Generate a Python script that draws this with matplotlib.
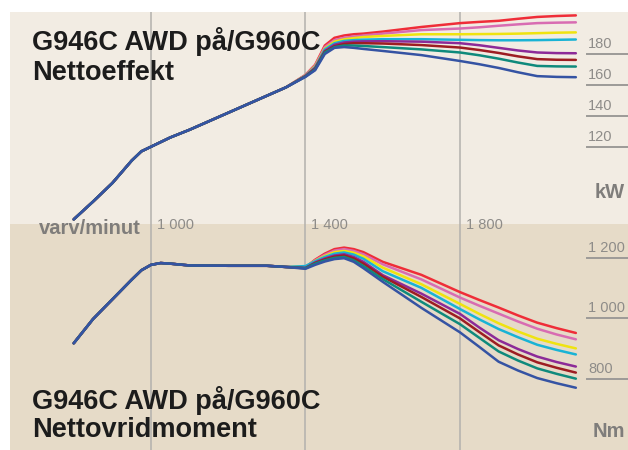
import matplotlib.pyplot as plt
import matplotlib.transforms as mtransforms

plt.rcParams['font.family'] = ['Liberation Sans', 'DejaVu Sans']

# varvtal (rpm)
rpm = [800, 850, 900, 950, 975, 1000, 1025, 1050, 1100, 1200, 1300, 1350,
       1400, 1425, 1450, 1475, 1500, 1525, 1550, 1600, 1700, 1800, 1850, 1900,
       1950, 2000, 2050, 2100]

# gemensam del 800-1350 rpm
kw_base = [73, 84.5, 96.5, 111, 117, 120, 123, 126, 131, 142, 153, 158.5]
nm_base = [917, 997, 1062, 1127, 1158, 1176, 1182, 1180, 1174, 1173, 1173, 1169]

# 1400-2100 rpm, en kurva per motorinställning
kw_red = [166.5, 173, 185.5, 190.5, 192, 192.8, 193.2, 194.5, 197.5, 200, 200.8, 201.5, 202.8, 204, 204.6, 205]
kw_pink = [166.3, 172.5, 184.5, 189, 190.5, 191.3, 192, 193.2, 195.5, 196.5, 197.3, 198.3, 199.2, 200, 200.3, 200.5]
kw_yellow = [166.1, 172, 183.5, 188, 189.5, 190.3, 191, 191.7, 192.8, 192.8, 192.9, 193, 193.2, 193.5, 193.8, 194]
kw_cyan = [166, 171.5, 183, 187, 188.5, 189, 189.3, 189.6, 189.6, 189.2, 189, 188.9, 188.9, 189, 189.2, 189.4]
kw_purple = [165.8, 171, 182, 186, 187.5, 188, 188.2, 188.3, 188, 187, 185.7, 184, 182.3, 181, 180.6, 180.5]
kw_darkred = [165.6, 170.5, 181.5, 185, 186.5, 187, 187, 186.8, 185.8, 184.2, 182.6, 180.7, 178.5, 176.7, 176.3, 176.2]
kw_teal = [165.4, 170, 181, 184.5, 185.5, 185.5, 185.2, 184.5, 183, 181, 179.2, 177, 174.5, 172.3, 172, 171.9]
kw_blue = [165.2, 169.5, 180, 184, 184.5, 184, 183.3, 182, 179.3, 175.5, 173.4, 171, 168.2, 165.7, 165.2, 165]

nm_red = [1168, 1193, 1213, 1228, 1233, 1228, 1218, 1186, 1143, 1086, 1060, 1035, 1009, 985, 967, 951]
nm_pink = [1169, 1191, 1209, 1223, 1228, 1222, 1211, 1178, 1128, 1068, 1041, 1015, 989, 965, 946, 930]
nm_yellow = [1170, 1189, 1205, 1218, 1222, 1216, 1204, 1167, 1112, 1047, 1014, 983, 956, 932, 915, 900]
nm_cyan = [1172, 1188, 1202, 1213, 1217, 1210, 1196, 1155, 1100, 1030, 996, 964, 937, 912, 895, 880]
nm_purple = [1166, 1184, 1197, 1207, 1211, 1202, 1186, 1142, 1081, 1014, 969, 927, 898, 873, 855, 840]
nm_darkred = [1165, 1182, 1194, 1203, 1207, 1197, 1180, 1137, 1070, 999, 954, 910, 880, 854, 836, 820]
nm_teal = [1165, 1180, 1191, 1199, 1202, 1191, 1172, 1129, 1054, 980, 935, 890, 860, 834, 816, 800]
nm_blue = [1163, 1176, 1187, 1195, 1198, 1186, 1165, 1120, 1034, 953, 905, 856, 827, 802, 785, 770]

kw_tails = [kw_red, kw_pink, kw_yellow, kw_cyan, kw_purple, kw_darkred, kw_teal, kw_blue]
nm_tails = [nm_red, nm_pink, nm_yellow, nm_cyan, nm_purple, nm_darkred, nm_teal, nm_blue]
colors = ['#ef2d38', '#d86cb2', '#efe310', '#19b3d5', '#8c2a98', '#9d1d22', '#0f8a7c', '#3553a3']

x_ticks = [1000, 1400, 1800]
x_labels = ['1 000', '1 400', '1 800']
kw_ticks = [180, 160, 140, 120]
kw_labels = ['180', '160', '140', '120']
nm_ticks = [1200, 1000, 800]
nm_labels = ['1 200', '1 000', '800']

W, H = 628, 450
fig = plt.figure(figsize=(W / 100, H / 100), dpi=100)
fig.patch.set_facecolor('white')

ax1 = fig.add_axes([10 / W, (H - 226) / H, 618 / W, 214 / H])
ax2 = fig.add_axes([10 / W, 0, 618 / W, 226 / H])

ax1.set_facecolor('#f2ece3')
ax2.set_facecolor('#e6dbc8')
ax1.set_xlim(635, 2235)
ax2.set_xlim(635, 2235)
ax1.set_ylim(68.7, 207.2)
ax2.set_ylim(564.3, 1311)

for ax in (ax1, ax2):
    for s in ax.spines.values():
        s.set_visible(False)
    ax.set_xticks([])
    ax.set_yticks([])
    for v in x_ticks:
        ax.axvline(v, color='#b3b1ad', lw=1.1, zorder=1)

# kurvor, blå sist så den hamnar överst
for tail, c in zip(kw_tails, colors):
    ax1.plot(rpm, kw_base + tail, color=c, lw=1.8, solid_capstyle='round',
             solid_joinstyle='round', zorder=3)
for tail, c in zip(nm_tails, colors):
    ax2.plot(rpm, nm_base + tail, color=c, lw=1.8, solid_capstyle='round',
             solid_joinstyle='round', zorder=3)

# högra skalor
x0 = (587 - 10) / 618
for ax, ticks, labels in ((ax1, kw_ticks, kw_labels), (ax2, nm_ticks, nm_labels)):
    tr = mtransforms.blended_transform_factory(ax.transAxes, ax.transData)
    for v, lab in zip(ticks, labels):
        ax.axhline(v, xmin=x0, xmax=1, color='#9c9a97', lw=1.4, zorder=2)
        ax.annotate(lab, xy=(x0 + 0.002, v), xycoords=tr, xytext=(0, 2),
                    textcoords='offset points', ha='left', va='bottom',
                    fontsize=10.5, color='#8e8c89')

# varvtal längs skarven
tr2 = mtransforms.blended_transform_factory(ax2.transData, ax2.transAxes)
for v, lab in zip(x_ticks, x_labels):
    ax2.annotate(lab, xy=(v, 1), xycoords=tr2, xytext=(4, -3.4),
                 textcoords='offset points', ha='left', va='baseline',
                 fontsize=10.5, color='#8e8c89')

fig.text(141 / W, 1 - 234 / H, 'varv/minut', ha='right', va='baseline',
         fontsize=14.5, fontweight='bold', color='#7f7d7b')
fig.text(625 / W, 1 - 198 / H, 'kW', ha='right', va='baseline',
         fontsize=14.5, fontweight='bold', color='#7f7d7b')
fig.text(625 / W, 1 - 437 / H, 'Nm', ha='right', va='baseline',
         fontsize=14.5, fontweight='bold', color='#7f7d7b')

fig.text(32 / W, 1 - 50 / H, 'G946C AWD på/G960C', ha='left', va='baseline',
         fontsize=19.5, fontweight='bold', color='#1c1c1c')
fig.text(32 / W, 1 - 80 / H, 'Nettoeffekt', ha='left', va='baseline',
         fontsize=19.5, fontweight='bold', color='#1c1c1c')
fig.text(32 / W, 1 - 409 / H, 'G946C AWD på/G960C', ha='left', va='baseline',
         fontsize=19.5, fontweight='bold', color='#1c1c1c')
fig.text(32 / W, 1 - 437 / H, 'Nettovridmoment', ha='left', va='baseline',
         fontsize=19.5, fontweight='bold', color='#1c1c1c')

fig.savefig('out.png', dpi=100)
